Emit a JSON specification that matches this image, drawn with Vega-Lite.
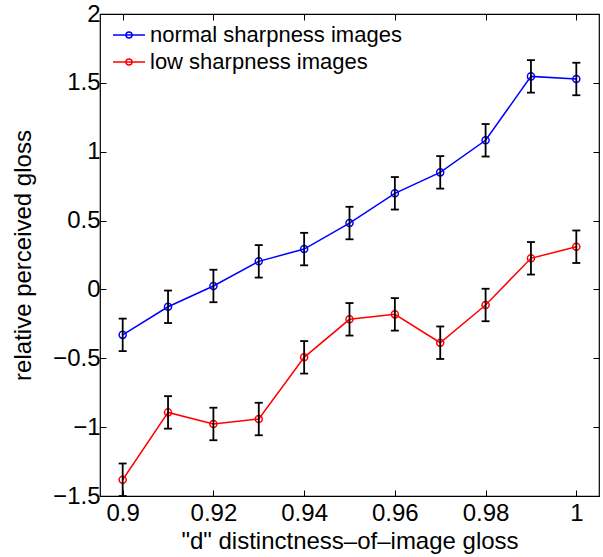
{
  "$schema": "https://vega.github.io/schema/vega-lite/v6.json",
  "width": 499,
  "height": 482,
  "autosize": {"type": "none"},
  "padding": {"left": 100, "top": 14, "right": 4, "bottom": 61},
  "background": "white",
  "config": {
    "font": "Liberation Sans",
    "view": {"stroke": "black", "strokeWidth": 1.2},
    "axis": {
      "grid": false,
      "domain": false,
      "tickColor": "black",
      "tickWidth": 1,
      "tickSize": -6,
      "labelColor": "black",
      "labelFontSize": 24,
      "labelFont": "Liberation Sans",
      "titleFont": "Liberation Sans",
      "titleFontSize": 24,
      "titleFontWeight": "normal",
      "titleColor": "black"
    }
  },
  "data": {
    "values": [
      {"series": "normal sharpness images", "x": 0.90, "y": -0.330, "lo": -0.448, "hi": -0.212},
      {"series": "normal sharpness images", "x": 0.91, "y": -0.126, "lo": -0.244, "hi": -0.008},
      {"series": "normal sharpness images", "x": 0.92, "y": 0.025, "lo": -0.093, "hi": 0.143},
      {"series": "normal sharpness images", "x": 0.93, "y": 0.204, "lo": 0.086, "hi": 0.322},
      {"series": "normal sharpness images", "x": 0.94, "y": 0.293, "lo": 0.175, "hi": 0.411},
      {"series": "normal sharpness images", "x": 0.95, "y": 0.482, "lo": 0.364, "hi": 0.600},
      {"series": "normal sharpness images", "x": 0.96, "y": 0.698, "lo": 0.580, "hi": 0.816},
      {"series": "normal sharpness images", "x": 0.97, "y": 0.850, "lo": 0.732, "hi": 0.968},
      {"series": "normal sharpness images", "x": 0.98, "y": 1.083, "lo": 0.965, "hi": 1.201},
      {"series": "normal sharpness images", "x": 0.99, "y": 1.547, "lo": 1.429, "hi": 1.665},
      {"series": "normal sharpness images", "x": 1.00, "y": 1.528, "lo": 1.410, "hi": 1.646},
      {"series": "low sharpness images", "x": 0.90, "y": -1.382, "lo": -1.500, "hi": -1.264},
      {"series": "low sharpness images", "x": 0.91, "y": -0.893, "lo": -1.011, "hi": -0.775},
      {"series": "low sharpness images", "x": 0.92, "y": -0.977, "lo": -1.095, "hi": -0.859},
      {"series": "low sharpness images", "x": 0.93, "y": -0.941, "lo": -1.059, "hi": -0.823},
      {"series": "low sharpness images", "x": 0.94, "y": -0.493, "lo": -0.611, "hi": -0.375},
      {"series": "low sharpness images", "x": 0.95, "y": -0.217, "lo": -0.335, "hi": -0.099},
      {"series": "low sharpness images", "x": 0.96, "y": -0.181, "lo": -0.299, "hi": -0.063},
      {"series": "low sharpness images", "x": 0.97, "y": -0.387, "lo": -0.505, "hi": -0.269},
      {"series": "low sharpness images", "x": 0.98, "y": -0.113, "lo": -0.231, "hi": 0.005},
      {"series": "low sharpness images", "x": 0.99, "y": 0.226, "lo": 0.108, "hi": 0.344},
      {"series": "low sharpness images", "x": 1.00, "y": 0.310, "lo": 0.192, "hi": 0.428}
    ]
  },
  "layer": [
    {
      "mark": {"type": "line", "strokeWidth": 1.5},
      "encoding": {
        "x": {
          "field": "x", "type": "quantitative",
          "scale": {"domain": [0.895, 1.005], "nice": false, "zero": false},
          "axis": {
            "orient": "bottom",
            "values": [0.9, 0.92, 0.94, 0.96, 0.98, 1.0],
            "format": ".2~f",
            "labelPadding": 11,
            "title": "\"d\" distinctness–of–image gloss",
            "titlePadding": 4
          }
        },
        "y": {
          "field": "y", "type": "quantitative",
          "scale": {"domain": [-1.5, 2], "nice": false, "zero": false},
          "axis": {
            "orient": "left",
            "values": [-1.5, -1, -0.5, 0, 0.5, 1, 1.5, 2],
            "format": ".1~f",
            "labelPadding": 6,
            "title": "relative perceived gloss",
            "titlePadding": 17
          }
        },
        "color": {
          "field": "series", "type": "nominal",
          "scale": {
            "domain": ["normal sharpness images", "low sharpness images"],
            "range": ["#0000ff", "#ff0000"]
          },
          "legend": {
            "orient": "none",
            "legendX": 18,
            "legendY": 10,
            "title": null,
            "padding": 0,
            "labelFontSize": 22,
            "labelFont": "Liberation Sans",
            "labelColor": "black",
            "labelLimit": 400,
            "labelOffset": 10,
            "rowPadding": 5,
            "symbolSize": 400,
            "symbolStrokeWidth": 1.5,
            "symbolType": "M-1.6,0H1.6M-0.3,0A0.3,0.3,0,1,1,0.3,0A0.3,0.3,0,1,1,-0.3,0",
            "symbolFillColor": "transparent",
            "encode": {"symbols": {"update": {"fill": {"value": "transparent"}}}}
          }
        }
      }
    },
    {
      "mark": {"type": "point", "shape": "circle", "filled": false, "size": 50, "strokeWidth": 1.5, "opacity": 1},
      "encoding": {
        "x": {"field": "x", "type": "quantitative", "axis": null},
        "y": {"field": "y", "type": "quantitative", "axis": null},
        "color": {"field": "series", "type": "nominal", "legend": null}
      }
    },
    {
      "mark": {"type": "rule", "color": "black", "strokeWidth": 1.8},
      "encoding": {
        "x": {
          "field": "x", "type": "quantitative",
          "axis": {"orient": "top", "values": [0.9, 0.92, 0.94, 0.96, 0.98, 1.0], "labels": false, "title": null}
        },
        "y": {
          "field": "lo", "type": "quantitative",
          "axis": {"orient": "right", "values": [-1.5, -1, -0.5, 0, 0.5, 1, 1.5, 2], "labels": false, "title": null}
        },
        "y2": {"field": "hi"}
      }
    },
    {
      "mark": {"type": "tick", "orient": "horizontal", "color": "black", "size": 8, "thickness": 1.8, "opacity": 1},
      "encoding": {
        "x": {"field": "x", "type": "quantitative", "axis": null},
        "y": {"field": "lo", "type": "quantitative", "axis": null}
      }
    },
    {
      "mark": {"type": "tick", "orient": "horizontal", "color": "black", "size": 8, "thickness": 1.8, "opacity": 1},
      "encoding": {
        "x": {"field": "x", "type": "quantitative", "axis": null},
        "y": {"field": "hi", "type": "quantitative", "axis": null}
      }
    }
  ],
  "resolve": {"axis": {"x": "independent", "y": "independent"}}
}
